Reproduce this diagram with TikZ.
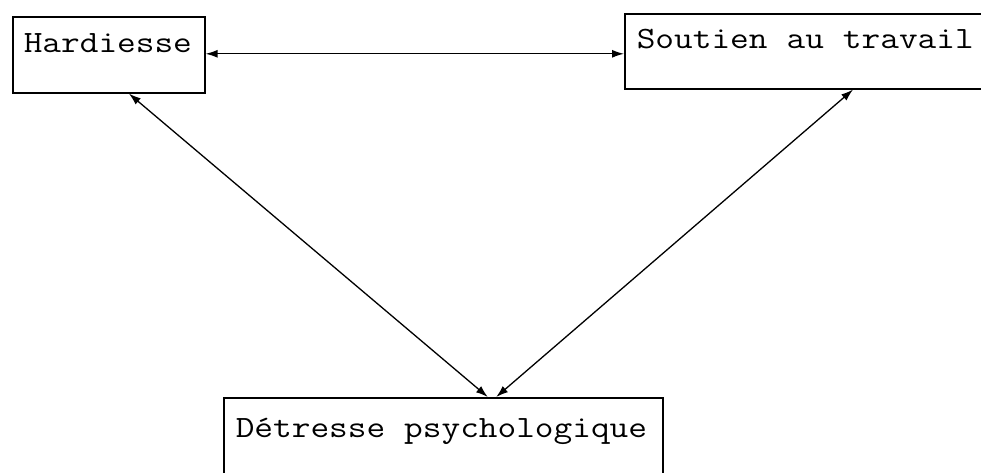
\documentclass[tikz,border=0pt]{standalone}
\usepackage{fontspec}
\setmonofont{Latin Modern Mono}[FakeStretch=1.17]
\usetikzlibrary{arrows.meta,calc}
\begin{document}
\begin{tikzpicture}[x=1pt,y=-1pt,
  box/.style={draw, line width=1.6pt, rectangle, anchor=north west, align=left,
    inner ysep=0pt, font=\ttfamily\fontsize{31}{36}\selectfont,
    execute at begin node={\spaceskip=19.04pt\relax}},
  link/.style={line width=1.3pt, {Latex[length=12pt,width=8pt]}-{Latex[length=12pt,width=8pt]}}]
\useasboundingbox (0,0) rectangle (981,472);
\clip (0,0) rectangle (981,472);

% the three variables
\node[box, inner xsep=11pt, text width=170pt, text height=36pt, text depth=40pt]
  (hard) at (12,16) {Hardiesse};
\node[box, inner xsep=12pt, text width=342pt, text height=35pt, text depth=40pt]
  (sout) at (624,13) {Soutien au travail};
\node[box, inner xsep=12pt, text width=415pt, text height=40pt, text depth=50pt]
  (detr) at (223,397) {Détresse psychologique};

% attachment points of the diagonal links
\coordinate (hb) at ($(hard.south west)!0.604!(hard.south east)$);
\coordinate (sb) at ($(sout.south west)!0.623!(sout.south east)$);
\coordinate (dl) at ($(detr.north west)!0.601!(detr.north east)$);
\coordinate (dr) at ($(detr.north west)!0.620!(detr.north east)$);
\coordinate (he) at ([yshift=1pt]hard.east);

% mutual relations
\draw[link] (he) -- (he -| sout.west);
\draw[link] (hb) -- (dl);
\draw[link] (sb) -- (dr);
\end{tikzpicture}
\end{document}
